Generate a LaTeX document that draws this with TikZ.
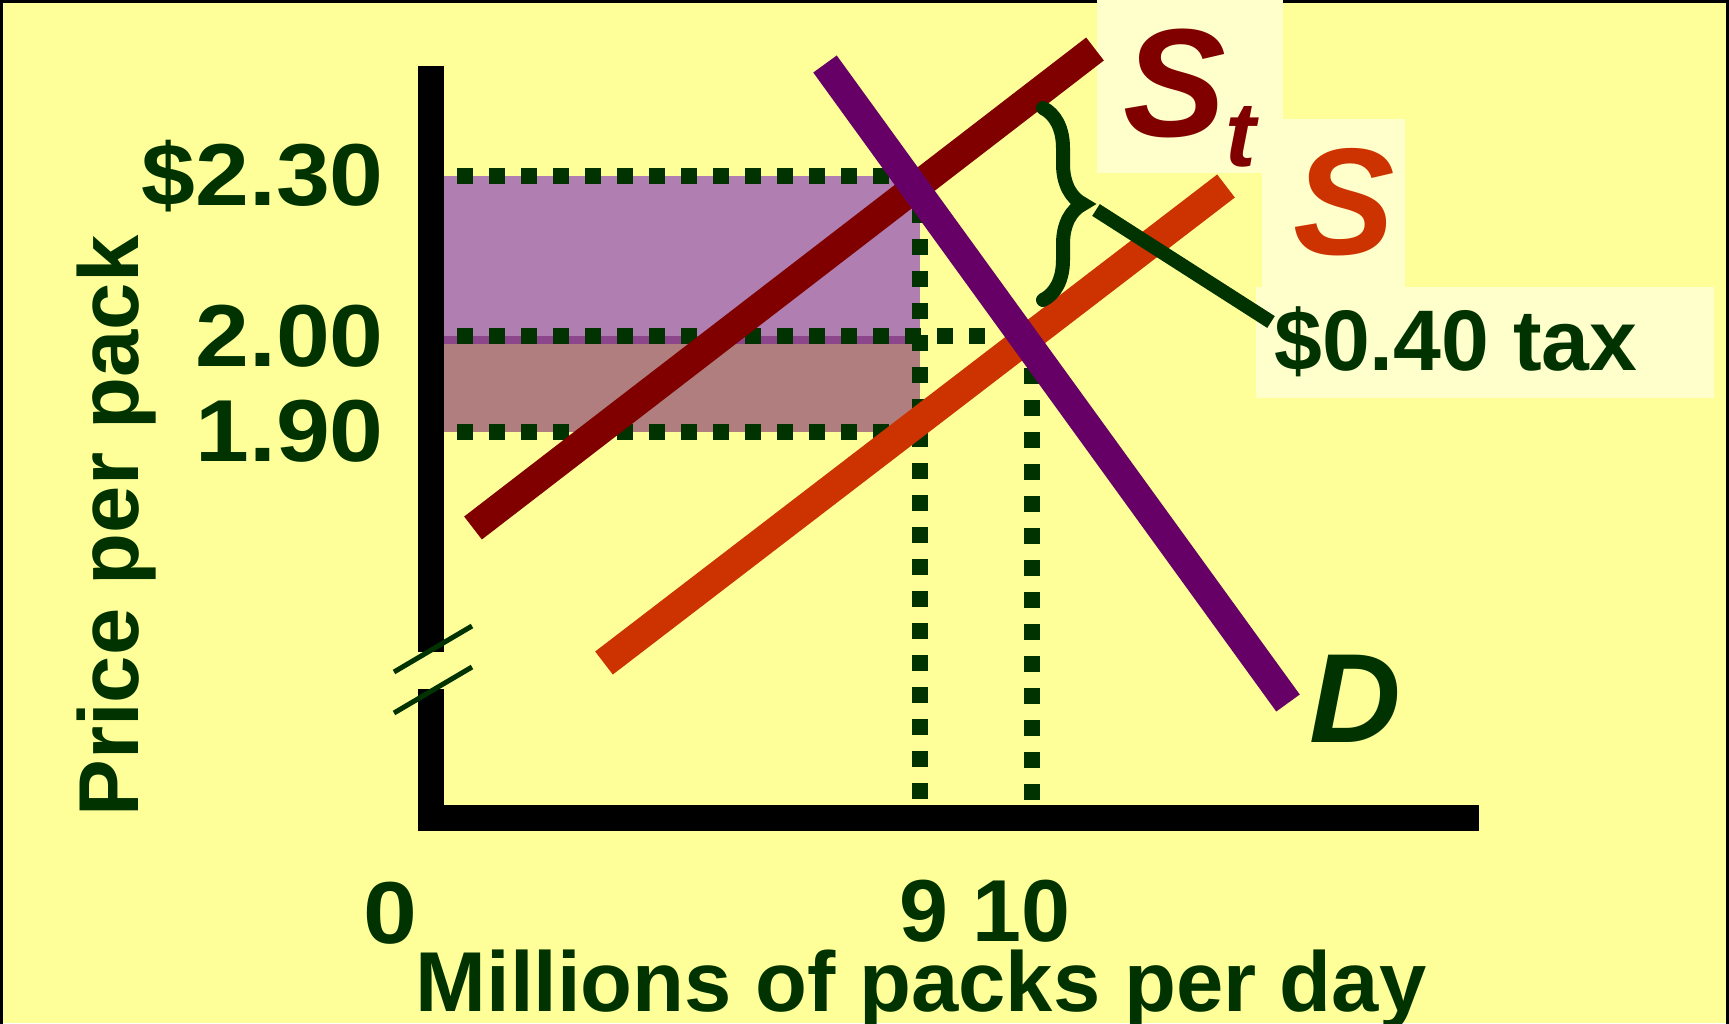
\documentclass[tikz,border=0pt]{standalone}
\usepackage{fontspec}
\setmainfont{Liberation Sans}
\newfontfamily\widefont[FakeStretch=1.1]{Liberation Sans}
\usetikzlibrary{decorations.pathreplacing}
\definecolor{cBg}{HTML}{FFFF99}
\definecolor{cBox}{HTML}{FFFFCC}
\definecolor{cInk}{HTML}{003300}
\definecolor{cTaxed}{HTML}{800000}
\definecolor{cSupply}{HTML}{CC3300}
\definecolor{cDemand}{HTML}{660066}
\definecolor{cBuyer}{HTML}{B07EB0}
\definecolor{cSeller}{HTML}{B07E7E}
\definecolor{cOverlap}{HTML}{8C468C}
\tikzset{
  crv/.style={line width=29pt},
  axl/.style={line width=26pt},
  dots/.style={cInk, line width=16pt, dash pattern=on 16pt off 16pt},
  tick/.style={text=cInk, inner sep=0pt, font=\widefont\bfseries\fontsize{88}{88}\selectfont},
  qlbl/.style={text=cInk, inner sep=0pt, font=\bfseries\fontsize{88}{88}\selectfont},
  axlbl/.style={text=cInk, inner sep=0pt, font=\bfseries\fontsize{85}{85}\selectfont},
  crvlbl/.style={inner sep=0pt, font=\bfseries\itshape\fontsize{#1}{#1}\selectfont},
  brk/.style={cInk, line width=5pt},
}

\begin{document}
\begin{tikzpicture}[x=1pt, y=-1pt]
    \useasboundingbox (0,0) rectangle (1729,1023);
    \clip (0,0) rectangle (1729,1023);
    \fill[cBg] (0,0) rectangle (1729,1023);
    \draw[line width=3pt] (1.5,1030) -- (1.5,1.5) -- (1727.5,1.5) -- (1727.5,1030);

    % label boxes
    \fill[cBox] (1097,0) rectangle (1283,173);
    \fill[cBox] (1262,119) rectangle (1405,287);
    \fill[cBox] (1256,287) rectangle (1714,398);

    % tax burden areas
    \fill[cBuyer]   (431,176) rectangle (920,344);
    \fill[cSeller]  (431,336) rectangle (920,432);
    \fill[cOverlap] (431,336) rectangle (920,344);

    % dotted guides
    \draw[dots] (425,176) -- (921,176);
    \draw[dots] (425,336) -- (985,336);
    \draw[dots] (425,432) -- (921,432);
    \draw[dots] (920,175) -- (920,831);
    \draw[dots] (1032,336) -- (1032,830);

    % axes with break
    \draw[axl] (431,66) -- (431,652);
    \draw[axl] (431,689) -- (431,831);
    \draw[axl] (418,818) -- (1479,818);
    \draw[brk] (394,672) -- (472,626);
    \draw[brk] (394,713) -- (472,667);

    % supply, taxed supply, demand
    \coordinate (st0) at (473,528);  \coordinate (st1) at (1095,49);
    \coordinate (s0)  at (604,663);  \coordinate (s1)  at (1226,186);
    \coordinate (d0)  at (825,64);   \coordinate (d1)  at (1288,703);
    \draw[crv, cTaxed]  (st0) -- (st1);
    \draw[crv, cSupply] (s0) -- (s1);
    \draw[crv, cDemand] (d0) -- (d1);

    % tax brace and pointer
    \coordinate (brtop) at (1043,108); \coordinate (brbot) at (1043,300);
    \coordinate (brtip) at (1096,210); \coordinate (taxpt) at (1271,322);
    \draw[cInk, line width=14pt, line cap=round, decorate,
          decoration={brace, amplitude=40pt}] (brtop) -- (brbot);
    \draw[cInk, line width=14pt] (brtip) -- (taxpt);

    % labels
    \node[tick, anchor=base east] (p230) at (384,205) {\$2.30};
    \node[tick, anchor=base east] (p200) at (384,366) {2.00};
    \node[tick, anchor=base east] (p190) at (384,461) {1.90};
    \node[tick, anchor=base] (q0) at (390,943) {0};
    \node[qlbl, anchor=base] (q910) at (985,941) {9 10};
    \node[axlbl, rotate=90, anchor=base] (ylab) at (138,526) {Price per pack};
    \node[axlbl, anchor=base] (xlab) at (921,1011) {Millions of packs per day};
    \node[crvlbl=154, text=cTaxed, anchor=base west] (lSt) at (1123,136)
      {S\raisebox{-30pt}{\fontsize{92}{92}\selectfont t}};
    \node[crvlbl=152, text=cSupply, anchor=base west] (lS) at (1293,254) {S};
    \node[crvlbl=127, text=cInk, anchor=base west] (lD) at (1309,742) {D};
    \node[axlbl, font=\bfseries\fontsize{86}{86}\selectfont, anchor=base west] (ltax) at (1274,370) {\$0.40 tax};
  \end{tikzpicture}
\end{document}
